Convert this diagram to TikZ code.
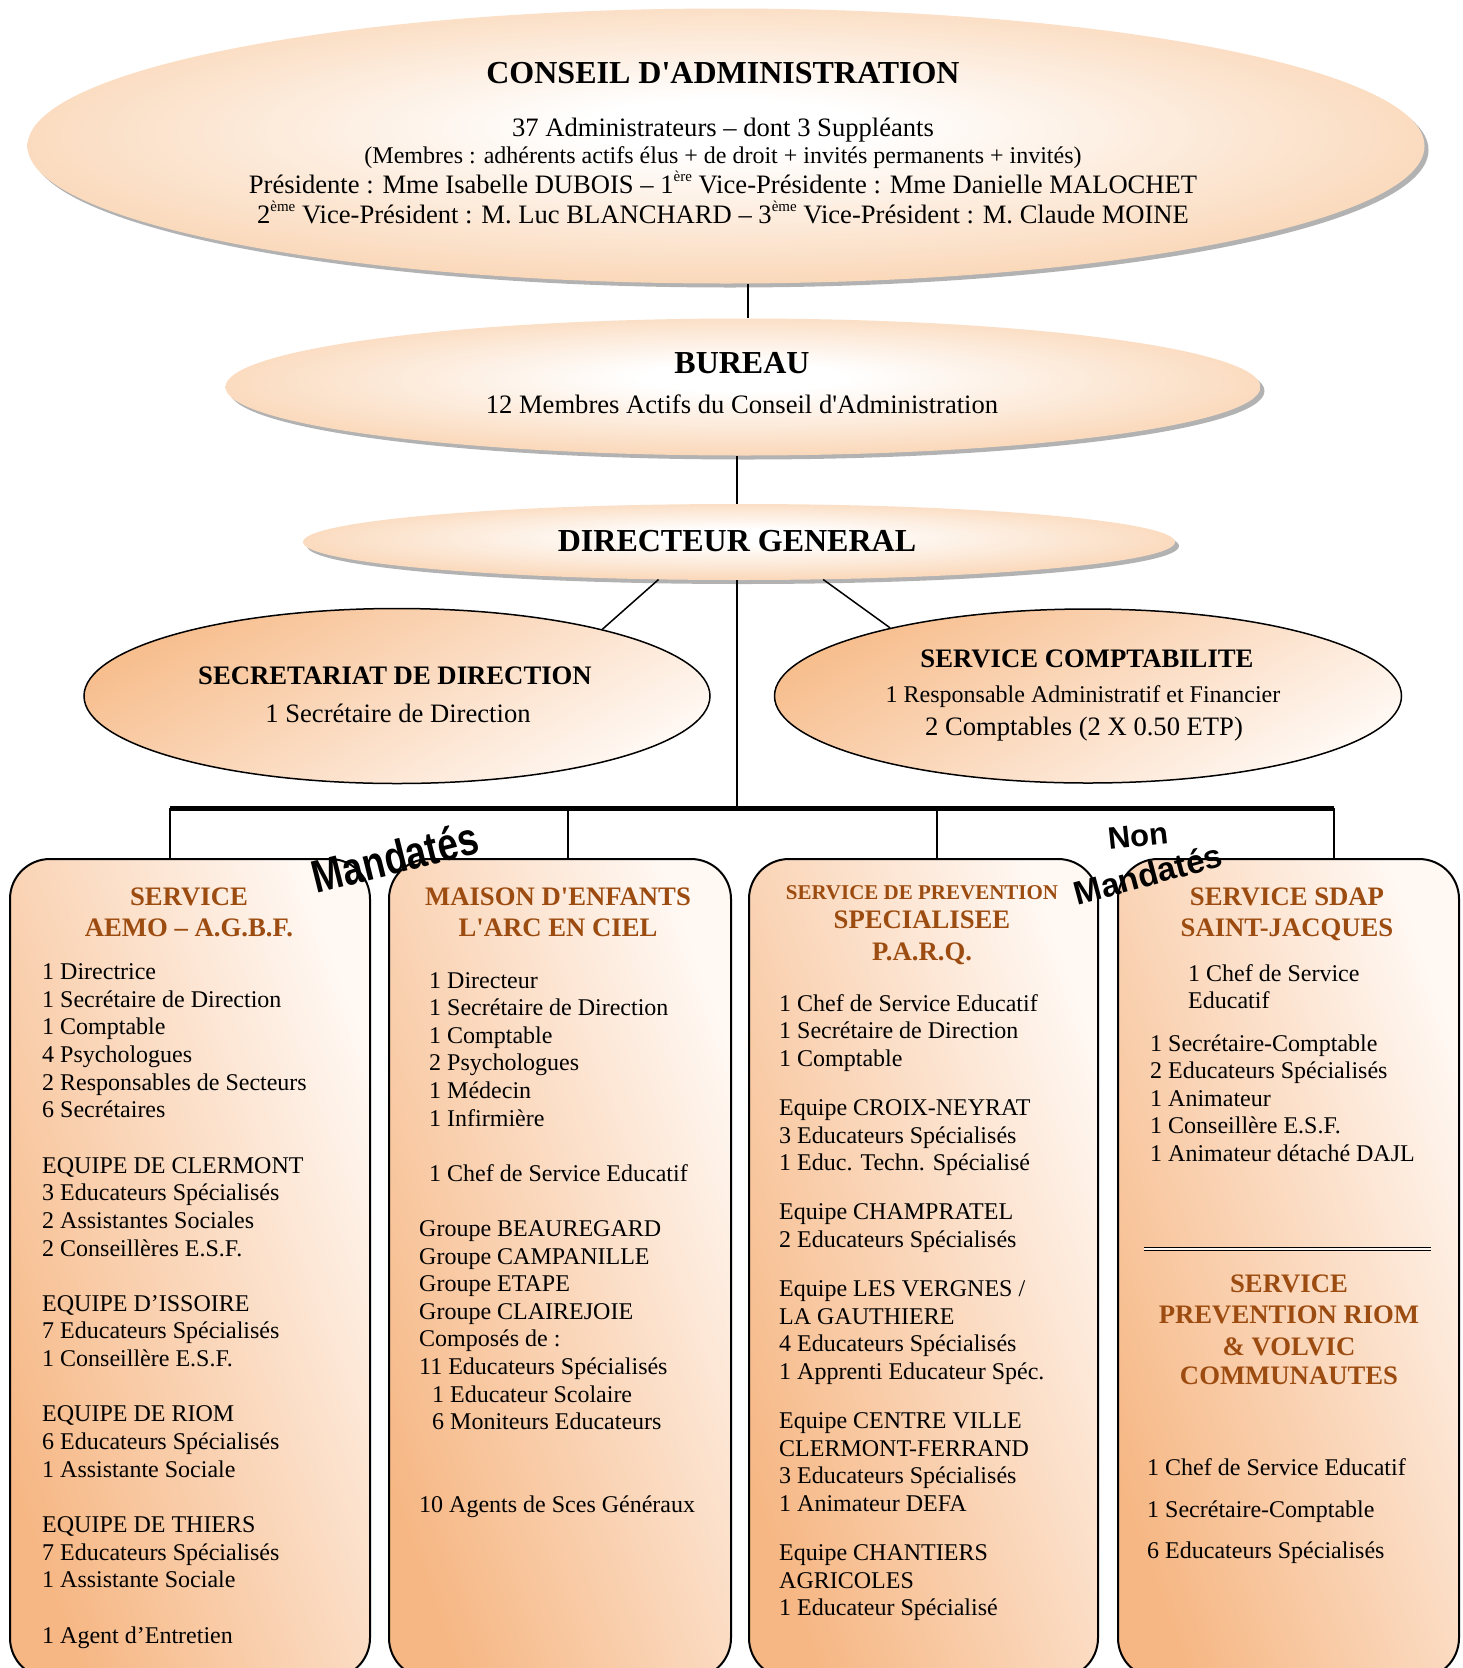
\documentclass[tikz,border=0pt]{standalone}
\usepackage{fontspec}
\usepackage{pdfrender}
\setmainfont{Liberation Serif}
\newfontfamily\wafont[FakeStretch=0.8]{Liberation Sans}
\newfontfamily\wbfont{Liberation Sans}
\usetikzlibrary{shapes.geometric,shadows}
\definecolor{ellO}{RGB}{247,184,130}
\definecolor{ellM}{RGB}{250,214,182}
\definecolor{secO}{RGB}{247,190,142}
\definecolor{secP}{RGB}{255,248,243}
\definecolor{boxO}{RGB}{246,183,132}
\definecolor{boxP}{RGB}{255,248,243}
\definecolor{ttl}{RGB}{156,76,16}
\definecolor{waG}{RGB}{140,140,140}
\pgfdeclareradialshading{ellsh}{\pgfpoint{0bp}{4bp}}{color(0bp)=(white); color(5bp)=(white); color(28bp)=(ellM); color(50bp)=(ellO)}
\newcommand\mysup[1]{\raisebox{0.42em}{\fontsize{15}{15}\selectfont #1}}
\newcommand\wart[1]{\textpdfrender{TextRenderingMode=FillStroke,LineWidth=2pt,StrokeColor=waG,FillColor=black}{#1}}
\tikzset{
  bigell/.style={ellipse, inner sep=0pt, shade, shading=ellsh,
     drop shadow={shadow xshift=4pt, shadow yshift=-4pt, fill=black!60, opacity=.5}},
  midell/.style={ellipse, inner sep=0pt, draw=black, line width=1.5pt,
     top color=secO, bottom color=secP, shading angle=30},
  svcbox/.style={rectangle, rounded corners=40pt, draw=black, line width=2pt, inner sep=0pt,
     top color=boxP, bottom color=boxO, shading angle=-70},
  conn/.style={draw=black, line width=1.5pt},
  barline/.style={draw=black, line width=5pt},
  tx/.style={anchor=base, inner sep=0pt},
  tBig/.style={tx, font=\fontsize{32}{36}\selectfont\bfseries},
  tEll/.style={tx, font=\fontsize{26.6}{30}\selectfont},
  tSm/.style={tx, font=\fontsize{24}{28}\selectfont},
  tMid/.style={tx, font=\fontsize{26.7}{30}\selectfont\bfseries},
  tCp/.style={tx, font=\fontsize{24}{28}\selectfont},
  tCq/.style={tx, font=\fontsize{26.6}{30}\selectfont},
  tBox/.style={tx, text=ttl, font=\fontsize{26.7}{30}\selectfont\bfseries},
  tBoxS/.style={tx, text=ttl, font=\fontsize{21}{25}\selectfont\bfseries},
  bt/.style={anchor=base west, inner sep=0pt, font=\fontsize{24}{28}\selectfont},
  waA/.style={inner sep=0pt, font=\wafont\bfseries\fontsize{46}{46}\selectfont},
  waB/.style={inner sep=0pt, font=\wbfont\bfseries\fontsize{31}{31}\selectfont},
  waC/.style={inner sep=0pt, font=\wbfont\bfseries\fontsize{33}{33}\selectfont},
}
\begin{document}
\begin{tikzpicture}[x=1pt,y=-1pt]
\useasboundingbox (0,0) rectangle (1463,1668);
\fill[white] (0,0) rectangle (1463,1668);
\clip (0,0) rectangle (1463,1668);

% ---------- ellipses ----------
\node[bigell, minimum width=1397pt, minimum height=275pt] (cons) at (726,146) {};
\node[bigell, minimum width=1035pt, minimum height=137pt] (bur) at (743,387) {};
\node[bigell, minimum width=872pt, minimum height=76pt] (dg) at (739,542) {};
\node[midell, minimum width=626pt, minimum height=175pt] (sec) at (397,696) {};
\node[midell, minimum width=627pt, minimum height=174pt] (cpt) at (1088,696) {};

% ---------- ellipse texts ----------
\node[tBig] (consT) at (723,83) {CONSEIL D\textquotesingle ADMINISTRATION};
\node[tEll] (consA) at (723,136) {37 Administrateurs – dont 3 Suppléants};
\node[tSm]  (consB) at (723,163) {(Membres : adhérents actifs élus + de droit + invités permanents + invités)};
\node[tEll] (consC) at (723,193) {Présidente : Mme Isabelle DUBOIS – 1\mysup{ère} Vice-Présidente : Mme Danielle MALOCHET};
\node[tEll] (consD) at (723,223) {2\mysup{ème} Vice-Président : M. Luc BLANCHARD – 3\mysup{ème} Vice-Président : M. Claude MOINE};

\node[tBig] (burT) at (742,373) {BUREAU};
\node[tEll] (burA) at (742,413) {12 Membres Actifs du Conseil d\textquotesingle Administration};

\node[tBig] (dgT) at (737,551) {DIRECTEUR GENERAL};

\node[tMid] (secT) at (395,684) {SECRETARIAT DE DIRECTION};
\node[tEll] (secA) at (398,722) {1 Secrétaire de Direction};

\node[tMid] (cptT) at (1087,667) {SERVICE COMPTABILITE};
\node[tCp]  (cptA) at (1083,702) {1 Responsable Administratif et Financier};
\node[tCq]  (cptB) at (1084,735) {2 Comptables (2 X 0.50 ETP)};

% ---------- connectors ----------
\draw[conn] ([xshift=22pt]cons.south) -- ([xshift=5pt]bur.north);
\draw[conn] ([xshift=-6pt]bur.south) -- ([xshift=-2pt]dg.north);
\draw[conn] (dg.205.7) -- (sec.18);
\draw[conn] (dg.336.9) -- (cpt.161);
\coordinate (barL) at (170,808);
\coordinate (barR) at (1334,808);
\coordinate (d1) at (170,808);
\coordinate (d2) at (568,808);
\coordinate (d3) at (937,808);
\coordinate (d4) at (1334,808);
\draw[conn] ([xshift=-2pt]dg.south) -- ([xshift=-2pt]dg.south |- barL);

% ---------- service boxes ----------
\node[svcbox, anchor=north west, minimum width=360pt, minimum height=819pt] (b1) at (9,858) {};
\node[svcbox, anchor=north west, minimum width=342pt, minimum height=819pt] (b2) at (388,858) {};
\node[svcbox, anchor=north west, minimum width=349pt, minimum height=819pt] (b3) at (748,858) {};
\node[svcbox, anchor=north west, minimum width=341pt, minimum height=819pt] (b4) at (1117,858) {};

\draw[conn] (d1) -- (d1 |- b1.north);
\draw[conn] (d2) -- (d2 |- b2.north);
\draw[conn] (d3) -- (d3 |- b3.north);
\draw[conn] (d4) -- (d4 |- b4.north);
\draw[barline] (barL) -- (barR);

% ---------- box 1 ----------
\node[tBox] (b1T1) at (189,905) {SERVICE};
\node[tBox] (b1T2) at (189,936) {AEMO – A.G.B.F.};
\foreach \k/\txt [count=\i] in {0/{1 Directrice},1/{1 Secrétaire de Direction},2/{1 Comptable},
  3/{4 Psychologues},4/{2 Responsables de Secteurs},5/{6 Secrétaires},
  7/{EQUIPE DE CLERMONT},8/{3 Educateurs Spécialisés},9/{2 Assistantes Sociales},10/{2 Conseillères E.S.F.},
  12/{EQUIPE D’ISSOIRE},13/{7 Educateurs Spécialisés},14/{1 Conseillère E.S.F.},
  16/{EQUIPE DE RIOM},17/{6 Educateurs Spécialisés},18/{1 Assistante Sociale},
  20/{EQUIPE DE THIERS},21/{7 Educateurs Spécialisés},22/{1 Assistante Sociale},
  24/{1 Agent d’Entretien}}
  \node[bt] (ba\i) at (42,979.5+27.65*\k) {\txt};

% ---------- box 2 ----------
\node[tBox] (b2T1) at (558,905) {MAISON D\textquotesingle ENFANTS};
\node[tBox] (b2T2) at (558,936) {L\textquotesingle ARC EN CIEL};
\foreach \xx/\k/\txt [count=\i] in {429/0/{1 Directeur},429/1/{1 Secrétaire de Direction},429/2/{1 Comptable},
  429/3/{2 Psychologues},429/4/{1 Médecin},429/5/{1 Infirmière},429/7/{1 Chef de Service Educatif},
  419/9/{Groupe BEAUREGARD},419/10/{Groupe CAMPANILLE},419/11/{Groupe ETAPE},419/12/{Groupe CLAIREJOIE},
  419/13/{Composés de :},419/14/{11 Educateurs Spécialisés},432/15/{1 Educateur Scolaire},
  432/16/{6 Moniteurs Educateurs},419/19/{10 Agents de Sces Généraux}}
  \node[bt] (bb\i) at (\xx,988+27.6*\k) {\txt};

% ---------- box 3 ----------
\node[tBoxS] (b3T1) at (922,899) {SERVICE DE PREVENTION};
\node[tBox]  (b3T2) at (922,928) {SPECIALISEE};
\node[tBox]  (b3T3) at (922,960) {P.A.R.Q.};
\foreach \yy/\txt [count=\i] in {1011/{1 Chef de Service Educatif},1038.6/{1 Secrétaire de Direction},1066.2/{1 Comptable},
  1115.4/{Equipe CROIX-NEYRAT},1143/{3 Educateurs Spécialisés},1170.6/{1 Educ. Techn. Spécialisé},
  1219.8/{Equipe CHAMPRATEL},1247.4/{2 Educateurs Spécialisés},
  1296.6/{Equipe LES VERGNES /},1324.2/{LA GAUTHIERE},1351.8/{4 Educateurs Spécialisés},1379.4/{1 Apprenti Educateur Spéc.},
  1428.6/{Equipe CENTRE VILLE},1456.2/{CLERMONT-FERRAND},1483.8/{3 Educateurs Spécialisés},1511.4/{1 Animateur DEFA},
  1560.6/{Equipe CHANTIERS},1588.2/{AGRICOLES},1615.8/{1 Educateur Spécialisé}}
  \node[bt] (bc\i) at (779,\yy) {\txt};

% ---------- box 4 ----------
\node[tBox] (b4T1) at (1287,905) {SERVICE SDAP};
\node[tBox] (b4T2) at (1287,936) {SAINT-JACQUES};
\node[bt] (bd1) at (1188,981) {1 Chef de Service};
\node[bt] (bd2) at (1188,1008) {Educatif};
\foreach \yy/\txt [count=\i] in {1051/{1 Secrétaire-Comptable},1078.6/{2 Educateurs Spécialisés},1106.2/{1 Animateur},
  1133.8/{1 Conseillère E.S.F.},1161.4/{1 Animateur détaché DAJL}}
  \node[bt] (be\i) at (1150,\yy) {\txt};
\draw[black, line width=1.3pt, double=boxP, double distance=1.6pt] ([xshift=27pt]b4.west |- 0,1249) -- ([xshift=-29pt]b4.east |- 0,1249);
\node[tBox] (b4U1) at (1289,1292) {SERVICE};
\node[tBox] (b4U2) at (1289,1323) {PREVENTION RIOM};
\node[tBox] (b4U3) at (1289,1355) {\& VOLVIC};
\node[tBox] (b4U4) at (1289,1384) {COMMUNAUTES};
\foreach \yy/\txt [count=\i] in {1475/{1 Chef de Service Educatif},1517/{1 Secrétaire-Comptable},1558/{6 Educateurs Spécialisés}}
  \node[bt] (bf\i) at (1147,\yy) {\txt};

% ---------- word art ----------
\node[waA, rotate=14] (m1) at (395,857) {\wart{Mandatés}};
\node[waB, rotate=6] (non) at (1138,836) {\wart{Non}};
\node[waC, rotate=15] (m2) at (1148,874) {\wart{Mandatés}};
\end{tikzpicture}
\end{document}
